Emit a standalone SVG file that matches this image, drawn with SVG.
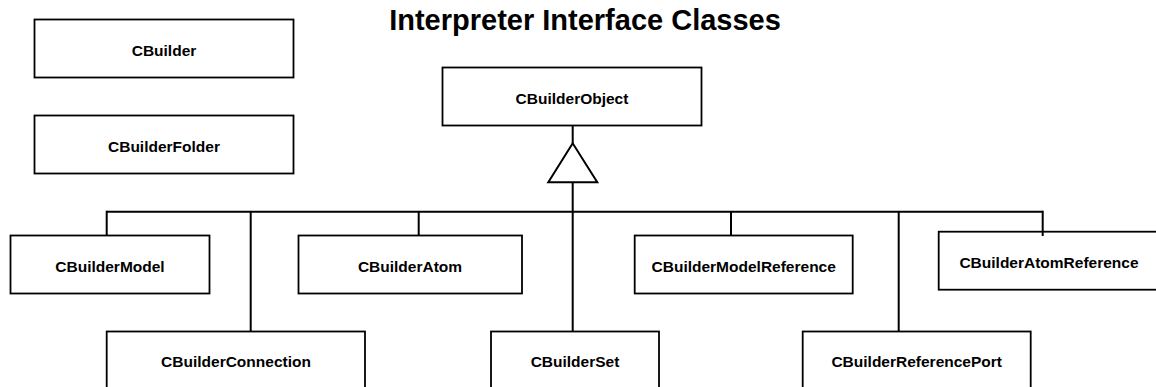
<svg xmlns="http://www.w3.org/2000/svg" width="1156" height="387" viewBox="0 0 1156 387">
<style>
.box{fill:#fff;stroke:#000;stroke-width:1.8}
.lbl{font-family:"Liberation Sans",Arial,sans-serif;font-weight:bold;font-size:15.5px;text-anchor:middle;fill:#000}
.ln{fill:none;stroke:#000;stroke-width:2}
.title{font-family:"Liberation Sans",Arial,sans-serif;font-weight:bold;font-size:29px;text-anchor:middle;fill:#000}
</style>
<rect width="1156" height="387" fill="#fff"/>
<text class="title" x="585" y="30">Interpreter Interface Classes</text>
<g id="CBuilder"><rect class="box" x="34.5" y="19.5" width="259" height="58"/><text class="lbl" x="164" y="56">CBuilder</text></g>
<g id="CBuilderFolder"><rect class="box" x="34.5" y="115.5" width="259" height="58"/><text class="lbl" x="164" y="152">CBuilderFolder</text></g>
<g id="CBuilderObject"><rect class="box" x="442.5" y="67.5" width="259" height="58"/><text class="lbl" x="572" y="104">CBuilderObject</text></g>
<g id="CBuilderModel"><rect class="box" x="10.5" y="235.5" width="199" height="58"/><text class="lbl" x="110" y="272.3">CBuilderModel</text></g>
<g id="CBuilderAtom"><rect class="box" x="298.5" y="235.5" width="223.5" height="58"/><text class="lbl" x="410" y="272.3">CBuilderAtom</text></g>
<g id="CBuilderModelReference"><rect class="box" x="634.7" y="235.5" width="218" height="58"/><text class="lbl" x="743.7" y="272.3">CBuilderModelReference</text></g>
<g id="CBuilderAtomReference"><rect class="box" x="938.7" y="231.7" width="221" height="58"/><text class="lbl" x="1049" y="268.3">CBuilderAtomReference</text></g>
<g id="CBuilderConnection"><rect class="box" x="106.7" y="331.5" width="258.3" height="58"/><text class="lbl" x="236" y="367.3">CBuilderConnection</text></g>
<g id="CBuilderSet"><rect class="box" x="491" y="331.5" width="168" height="58"/><text class="lbl" x="575" y="367.3">CBuilderSet</text></g>
<g id="CBuilderReferencePort"><rect class="box" x="802.7" y="331.5" width="228" height="58"/><text class="lbl" x="916.7" y="367.3">CBuilderReferencePort</text></g>
<g id="connectors">
<line class="ln" x1="572.7" y1="125.5" x2="572.7" y2="143.3"/>
<polygon class="ln" points="572.7,143.3 548.3,182.3 597.3,182.3" fill="#fff"/>
<line class="ln" x1="572.7" y1="182.3" x2="572.7" y2="332"/>
<line class="ln" x1="106.7" y1="211.7" x2="1042.7" y2="211.7"/>
<line class="ln" x1="106.7" y1="210.7" x2="106.7" y2="235.5"/>
<line class="ln" x1="250.7" y1="211.7" x2="250.7" y2="331.5"/>
<line class="ln" x1="418.7" y1="211.7" x2="418.7" y2="235.5"/>
<line class="ln" x1="731" y1="211.7" x2="731" y2="235.5"/>
<line class="ln" x1="898.7" y1="211.7" x2="898.7" y2="331.5"/>
<line class="ln" x1="1042.7" y1="210.7" x2="1042.7" y2="236"/>
</g>
</svg>
